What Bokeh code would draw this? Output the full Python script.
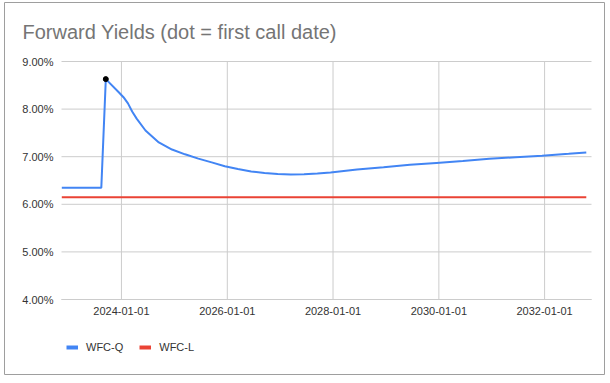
import pandas as pd
from bokeh.plotting import figure
from bokeh.models import (Range1d, FixedTicker, DatetimeTickFormatter, PrintfTickFormatter,
                          Legend, LegendItem, Label)
from bokeh.embed import file_html
from bokeh.resources import INLINE

title_text = "Forward Yields (dot = first call date)"
series_names = ["WFC-Q", "WFC-L"]

q_dates = ["2022-11-15", "2023-08-15", "2023-09-15", "2023-12-15", "2024-01-15", "2024-02-15",
           "2024-03-15", "2024-04-15", "2024-06-15", "2024-09-15", "2024-12-15", "2025-03-15",
           "2025-06-15", "2025-09-15", "2025-12-15", "2026-03-15", "2026-06-15", "2026-09-15",
           "2026-12-15", "2027-03-15", "2027-06-15", "2027-09-15", "2027-12-15", "2028-06-15",
           "2028-12-15", "2029-06-15", "2029-12-15", "2030-06-15", "2030-12-15", "2031-06-15",
           "2031-12-15", "2032-06-15", "2032-10-15"]
q_values = [6.35, 6.35, 8.63, 8.35, 8.25, 8.12,
            7.95, 7.80, 7.55, 7.30, 7.15, 7.05,
            6.96, 6.88, 6.80, 6.74, 6.69, 6.66,
            6.635, 6.625, 6.63, 6.645, 6.67, 6.73,
            6.78, 6.83, 6.87, 6.91, 6.955, 6.99,
            7.02, 7.06, 7.09]

l_dates = ["2022-11-15", "2032-10-15"]
l_values = [6.15, 6.15]

call_dates = ["2023-09-15"]
call_values = [8.63]

y_ticks = [4, 5, 6, 7, 8, 9]
x_tick_dates = ["2024-01-01", "2026-01-01", "2028-01-01", "2030-01-01", "2032-01-01"]

x_start = "2022-11-13"
x_end = "2032-11-20"
y_min, y_max = 4, 9

BLUE = "#4285F4"
RED = "#EA4335"
FONT = "Liberation Sans"

# ---- pixel geometry of the card (outer box) and the plotting area inside it ----
BOX_L, BOX_R, BOX_T, BOX_B = 4, 604, 2, 374      # outer bordered box (canvas px)
AREA_L, AREA_R, AREA_T, AREA_B = 61, 591, 61, 299  # data area (canvas px)


def ms(s):
    return pd.Timestamp(s).value / 1e6


# extend the ranges so that the data area sits inside the bordered frame
x0, x1 = ms(x_start), ms(x_end)
px_x = (x1 - x0) / (AREA_R - AREA_L)
xr = Range1d(x0 - (AREA_L - BOX_L) * px_x, x1 + (BOX_R - AREA_R) * px_x)
px_y = (y_max - y_min) / (AREA_B - AREA_T)
yr = Range1d(y_min - (BOX_B - AREA_B) * px_y, y_max + (AREA_T - BOX_T) * px_y)

p = figure(width=610, height=383, x_axis_type="datetime", output_backend="svg",
           toolbar_location=None, x_range=xr, y_range=yr,
           min_border_left=BOX_L, min_border_right=610 - BOX_R,
           min_border_top=BOX_T, min_border_bottom=383 - BOX_B)
p.outline_line_color = "#9e9e9e"
p.outline_line_width = 1
p.background_fill_color = "white"
p.border_fill_color = "white"
p.grid.visible = False

# gridlines from the tick arrays
xt = [ms(d) for d in x_tick_dates]
p.segment(x0=xt, x1=xt, y0=[y_min] * len(xt), y1=[y_max] * len(xt),
          line_color="#cccccc", line_width=1)
p.segment(x0=[x0] * len(y_ticks), x1=[x1] * len(y_ticks), y0=y_ticks, y1=y_ticks,
          line_color="#cccccc", line_width=1)

# axes fixed at the data-area edges
p.xaxis.fixed_location = y_min
p.xaxis.bounds = (x0, x1)
p.yaxis.fixed_location = x0
p.yaxis.bounds = (y_min, y_max)
p.xaxis.ticker = FixedTicker(ticks=xt)
fmt = "%Y-%m-%d"
p.xaxis.formatter = DatetimeTickFormatter(microseconds=fmt, milliseconds=fmt, seconds=fmt, minsec=fmt,
                                          minutes=fmt, hourmin=fmt, hours=fmt, days=fmt,
                                          months=fmt, years=fmt)
p.yaxis.ticker = FixedTicker(ticks=y_ticks)
p.yaxis.formatter = PrintfTickFormatter(format="%.2f%%")
for ax in (p.xaxis, p.yaxis):
    ax.major_tick_line_color = None
    ax.minor_tick_line_color = None
    ax.major_label_text_font = FONT
    ax.major_label_text_font_size = "11px"
    ax.major_label_text_color = "#333333"
p.xaxis.axis_line_color = "#cccccc"
p.yaxis.axis_line_color = None
p.xaxis.major_label_standoff = 1
p.yaxis.major_label_standoff = 2

# data
p.line(x=[ms(d) for d in l_dates], y=l_values, line_color=RED, line_width=2)
p.line(x=[ms(d) for d in q_dates], y=q_values, line_color=BLUE, line_width=2)
p.scatter(x=[ms(d) for d in call_dates], y=call_values, size=5, color="black")

# legend (swatch-only renderers)
lq = p.line(x=[x0], y=[float("nan")], line_color=BLUE, line_width=4)
ll = p.line(x=[x0], y=[float("nan")], line_color=RED, line_width=4)
legend = Legend(items=[LegendItem(label=series_names[0], renderers=[lq]),
                       LegendItem(label=series_names[1], renderers=[ll])],
                orientation="horizontal", location=(62, 20), margin=0, padding=0,
                spacing=16, glyph_width=12, glyph_height=14, label_height=14, label_standoff=8,
                label_text_font=FONT, label_text_font_size="11px", label_text_color="#333333",
                border_line_color=None, background_fill_alpha=0)
p.add_layout(legend, "center")

# title
p.add_layout(Label(x=22 - BOX_L, y=BOX_B - 31, x_units="screen", y_units="screen",
                   text=title_text, text_font=FONT, text_font_size="20px",
                   text_color="#757575", text_baseline="alphabetic"))

open("out.html", "w").write(file_html(p, INLINE))
